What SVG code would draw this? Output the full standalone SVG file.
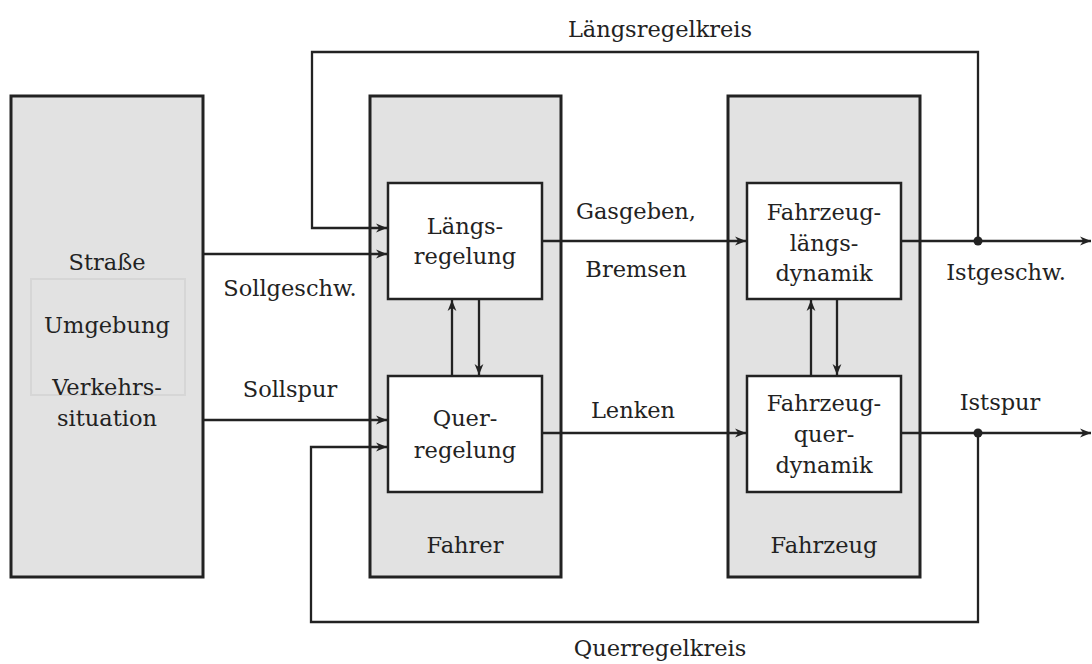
<svg xmlns="http://www.w3.org/2000/svg" width="1092" height="664" viewBox="0 0 1092 664">
  <style>
    text { font-family: "DejaVu Serif", "Liberation Serif", serif; font-size: 22.5px; fill: #222; text-anchor: middle; }
    .outer { fill: #e2e2e2; stroke: #222; stroke-width: 3; }
    .inner { fill: #ffffff; stroke: #222; stroke-width: 2.5; }
    .faint { fill: none; stroke: #d6d6d6; stroke-width: 2; }
    .wire { fill: none; stroke: #222; stroke-width: 2.3; }
    .arrow { marker-end: url(#head); }
  </style>
  <defs>
    <marker id="head" viewBox="0 0 10 10" refX="10" refY="5" markerWidth="11" markerHeight="11" markerUnits="userSpaceOnUse" orient="auto">
      <path d="M0,1 L10,5 L0,9 L3,5 z" fill="#222"/>
    </marker>
  </defs>

  <!-- environment -->
  <g id="umwelt">
    <rect class="outer" x="11" y="96" width="192" height="481"/>
    <rect class="faint" x="31" y="279" width="154" height="116"/>
    <text x="107" y="270">Straße</text>
    <text x="107" y="333">Umgebung</text>
    <text x="107" y="395">Verkehrs-</text>
    <text x="107" y="426">situation</text>
  </g>

  <!-- driver -->
  <g id="fahrer">
    <rect class="outer" x="370" y="96" width="191" height="481"/>
    <text x="465" y="553">Fahrer</text>
  </g>
  <g id="laengsregelung">
    <rect class="inner" x="388" y="183" width="154" height="116"/>
    <text x="465" y="234">Längs-</text>
    <text x="465" y="264">regelung</text>
  </g>
  <g id="querregelung">
    <rect class="inner" x="388" y="376" width="154" height="116"/>
    <text x="465" y="426">Quer-</text>
    <text x="465" y="458">regelung</text>
  </g>

  <!-- vehicle -->
  <g id="fahrzeug">
    <rect class="outer" x="728" y="96" width="192" height="481"/>
    <text x="824" y="553">Fahrzeug</text>
  </g>
  <g id="laengsdynamik">
    <rect class="inner" x="747" y="183" width="154" height="116"/>
    <text x="824" y="220">Fahrzeug-</text>
    <text x="824" y="251">längs-</text>
    <text x="824" y="281">dynamik</text>
  </g>
  <g id="querdynamik">
    <rect class="inner" x="747" y="376" width="154" height="116"/>
    <text x="824" y="411">Fahrzeug-</text>
    <text x="824" y="442">quer-</text>
    <text x="824" y="473">dynamik</text>
  </g>

  <!-- connectors -->
  <g id="connectors">
    <path class="wire arrow" d="M978,241 V52 H312 V228 H387"/>
    <path class="wire arrow" d="M203,254 H387"/>
    <path class="wire arrow" d="M203,420 H387"/>
    <path class="wire arrow" d="M978,433 V622 H311 V447 H387"/>
    <path class="wire arrow" d="M543,241 H746"/>
    <path class="wire arrow" d="M543,433 H746"/>
    <path class="wire arrow" d="M901,241 H1091"/>
    <path class="wire arrow" d="M901,433 H1091"/>
    <path class="wire arrow" d="M452,375 V300"/>
    <path class="wire arrow" d="M479,300 V375"/>
    <path class="wire arrow" d="M811,375 V300"/>
    <path class="wire arrow" d="M837,300 V375"/>
    <circle cx="978" cy="241" r="4.5" fill="#222"/>
    <circle cx="978" cy="433" r="4.5" fill="#222"/>
  </g>

  <!-- signal labels -->
  <g id="labels">
    <text x="660" y="37">Längsregelkreis</text>
    <text x="660" y="656">Querregelkreis</text>
    <text x="290" y="296">Sollgeschw.</text>
    <text x="290" y="397">Sollspur</text>
    <text x="636" y="219">Gasgeben,</text>
    <text x="636" y="277">Bremsen</text>
    <text x="633" y="418">Lenken</text>
    <text x="1006" y="280">Istgeschw.</text>
    <text x="1000" y="410">Istspur</text>
  </g>
</svg>
